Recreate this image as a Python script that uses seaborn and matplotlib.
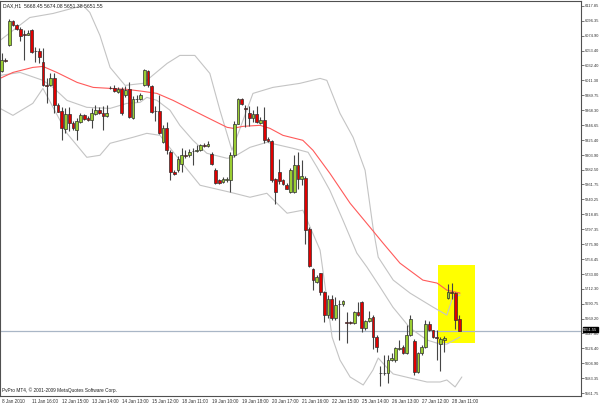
import matplotlib
matplotlib.use("Agg")
import matplotlib.pyplot as plt
import seaborn as sns
import numpy as np
import pandas as pd
from matplotlib.patches import Rectangle

sns.set_theme(style="white")
plt.rcParams['font.family'] = ['Liberation Sans Narrow', 'Liberation Sans', 'DejaVu Sans']

# ---------------- data ----------------
opens = [6023.9, 6039.6, 6061.1, 6095.9, 6089.8, 6085.0, 6076.9, 6076.4, 6082.6, 6052.9,
         6052.9, 6037.2, 6003.8, 6003.8, 6014.8, 5976.1, 5966.5, 5941.7, 5963.2, 5949.8,
         5939.3, 5951.2, 5960.8, 5957.5, 5954.6, 5963.2, 5969.0, 5964.1, 5959.4, 5999.9,
         5999.9, 5994.2, 5999.1, 5989.5, 5999.1, 5957.5, 5984.7, 5983.7, 6003.8, 6024.3,
         6002.8, 5967.0, 5967.0, 5922.5, 5942.6, 5908.2, 5879.6, 5882.0, 5891.6, 5903.5,
         5903.5, 5909.6, 5909.2, 5911.7, 5917.8, 5916.8, 5905.9, 5882.0, 5867.7, 5865.2,
         5867.7, 5868.7, 5903.5, 5948.9, 5983.7, 5970.8, 5964.7, 5956.9, 5963.2, 5950.3,
         5954.6, 5927.4, 5923.5, 5869.1, 5879.6, 5867.7, 5861.5, 5850.9, 5850.9, 5890.2,
         5870.1, 5871.0, 5798.4, 5739.7, 5721.9, 5734.0, 5706.7, 5674.2, 5697.1, 5669.5,
         5690.0, 5689.5, 5663.7, 5663.7, 5662.3, 5678.1, 5693.3, 5655.1, 5666.0, 5671.8,
         5642.2, 5591.5, 5590.7, 5590.7, 5609.7, 5609.7, 5625.0, 5628.8, 5620.2, 5645.5,
         5637.0, 5593.0, 5619.3, 5628.8, 5661.3, 5652.7, 5642.2, 5632.6, 5638.4, 5699.0,
         5707.6, 5706.2, 5668.45]
closes = [6039.6, 6038.9, 6096.9, 6089.8, 6085.0, 6074.0, 6076.0, 6079.3, 6051.5, 6052.5,
          6043.9, 6003.8, 6003.1, 6014.8, 5976.1, 5965.5, 5942.6, 5963.2, 5949.8, 5943.2,
          5952.2, 5960.8, 5956.1, 5953.6, 5964.1, 5969.0, 5964.1, 5959.4, 5964.1, 5999.5,
          5995.2, 5999.1, 5964.1, 5997.6, 5958.4, 5984.7, 5984.3, 5990.5, 6025.3, 6003.8,
          5965.5, 5966.5, 5935.4, 5942.6, 5910.7, 5879.6, 5877.3, 5898.8, 5903.5, 5903.1,
          5908.2, 5909.2, 5911.7, 5917.8, 5917.4, 5919.2, 5890.6, 5863.8, 5863.8, 5869.1,
          5870.1, 5903.5, 5948.9, 5983.7, 5977.6, 5970.1, 5956.9, 5963.2, 5951.2, 5954.6,
          5926.0, 5923.5, 5867.7, 5850.9, 5866.7, 5861.9, 5855.8, 5882.0, 5890.2, 5869.1,
          5873.4, 5797.0, 5744.4, 5724.4, 5729.1, 5706.7, 5674.2, 5697.1, 5669.5, 5688.5,
          5689.5, 5694.3, 5663.3, 5662.3, 5678.1, 5674.2, 5655.1, 5666.0, 5670.3, 5642.2,
          5628.8, 5591.1, 5591.1, 5609.7, 5613.0, 5626.5, 5627.3, 5620.2, 5645.5, 5668.0,
          5593.0, 5619.3, 5628.8, 5661.3, 5652.7, 5643.1, 5641.8, 5639.4, 5641.7, 5707.6,
          5706.2, 5667.0, 5651.55]
highs = [6049.7, 6042.5, 6098.4, 6097.9, 6091.2, 6086.9, 6083.6, 6083.6, 6084.0, 6058.7,
         6056.8, 6057.2, 6013.8, 6021.0, 6021.0, 5978.0, 5972.7, 5970.8, 5972.3, 5952.2,
         5956.5, 5963.7, 5962.2, 5959.4, 5970.8, 5975.1, 5972.3, 5973.7, 5975.1, 6002.4,
         6003.8, 6000.9, 6000.9, 6002.4, 6008.1, 5988.0, 5989.5, 5992.3, 6026.7, 6025.3,
         6003.8, 5973.7, 5989.5, 5946.5, 5950.8, 5910.7, 5882.0, 5902.1, 5913.5, 5910.7,
         5912.1, 5913.5, 5917.8, 5919.2, 5920.7, 5923.5, 5907.8, 5884.9, 5869.1, 5872.0,
         5872.0, 5907.8, 5952.2, 5985.2, 5985.2, 5975.1, 5973.7, 5968.0, 5973.7, 5957.9,
         5972.7, 5929.3, 5925.0, 5870.5, 5898.2, 5869.1, 5863.4, 5884.9, 5903.5, 5908.2,
         5896.3, 5873.4, 5800.3, 5741.6, 5731.5, 5734.4, 5708.6, 5702.9, 5702.9, 5700.4,
         5695.7, 5695.7, 5678.9, 5665.6, 5679.9, 5692.8, 5694.3, 5667.0, 5679.9, 5674.2,
         5645.5, 5601.1, 5616.9, 5616.9, 5619.7, 5628.3, 5638.4, 5631.2, 5659.9, 5674.2,
         5639.8, 5621.2, 5631.2, 5667.0, 5666.0, 5652.7, 5652.7, 5643.1, 5644.1, 5718.2,
         5719.6, 5707.2, 5674.08]
lows = [6022.4, 6036.8, 6059.7, 6088.3, 6082.6, 6066.9, 6039.6, 6075.4, 6049.7, 6037.2,
        6035.3, 6002.4, 5978.0, 6002.4, 5963.7, 5965.1, 5926.0, 5935.0, 5937.9, 5939.3,
        5926.0, 5949.3, 5953.6, 5952.2, 5943.2, 5960.8, 5962.2, 5940.3, 5958.0, 5998.1,
        5993.8, 5992.3, 5960.8, 5986.6, 5956.5, 5955.1, 5979.4, 5982.3, 6002.4, 6000.9,
        5963.7, 5952.2, 5933.6, 5920.7, 5904.9, 5867.7, 5874.8, 5879.1, 5879.1, 5899.2,
        5900.6, 5889.2, 5907.8, 5909.2, 5914.9, 5914.9, 5889.2, 5861.9, 5861.9, 5863.4,
        5864.8, 5850.9, 5900.6, 5947.9, 5975.1, 5944.0, 5945.0, 5950.8, 5949.3, 5947.9,
        5921.1, 5922.1, 5865.2, 5833.3, 5862.9, 5860.5, 5854.8, 5849.0, 5849.0, 5855.8,
        5860.5, 5776.9, 5743.0, 5710.0, 5720.1, 5702.9, 5664.6, 5669.9, 5667.0, 5667.0,
        5638.4, 5687.1, 5634.5, 5661.3, 5661.3, 5672.8, 5650.3, 5652.7, 5664.2, 5625.1,
        5621.6, 5572.5, 5588.2, 5577.2, 5608.3, 5606.9, 5624.1, 5618.3, 5618.3, 5644.1,
        5588.2, 5591.1, 5616.9, 5626.9, 5651.3, 5641.2, 5609.7, 5594.4, 5621.6, 5697.1,
        5697.1, 5654.1, 5651.38]

# Bollinger bands (bar position, price)
upper_x = [-0.45, 7.5, 13.7, 21.7, 23.5, 26.2, 28.9, 32.9, 37.7, 44.1, 47.5, 51.5, 55.5,
           58.2, 61.4, 67.0, 72.3, 79.5, 84.9, 86.7, 90.2, 93.7, 96.9, 99.0, 100.4,
           104.4, 108.9, 115.0, 118.7, 120.3, 122.2]
upper_y = [6068.3, 6101.2, 6107.0, 6118.4, 6108.4, 6075.4, 6029.6, 6003.8, 6006.7, 6035.3,
           6046.8, 6046.8, 6021.0, 5968.0, 5910.7, 5992.3, 6000.9, 6006.7, 6013.8, 6011.0,
           5963.7, 5929.3, 5882.0, 5800.3, 5757.3, 5724.4, 5705.7, 5685.7, 5674.2, 5700.0,
           5702.9]
mid_x = [-0.45, 4.9, 11.0, 13.7, 17.4, 22.7, 28.9, 33.4, 36.9, 38.7, 41.4, 44.9, 47.5,
         51.0, 54.7, 60.1, 61.7, 66.2, 70.7, 77.7, 81.7, 84.1, 87.5, 91.0, 94.7, 97.4,
         100.9, 104.3, 108.9, 113.4, 116.9, 118.7, 122.2]
mid_y = [6018.1, 6022.4, 6011.0, 6000.9, 5982.3, 5972.3, 5970.8, 5978.0, 5979.4, 5986.6,
         5982.3, 5968.0, 5946.5, 5925.0, 5906.4, 5899.2, 5900.6, 5914.9, 5922.1, 5913.5,
         5907.8, 5886.3, 5853.3, 5810.3, 5763.1, 5743.0, 5714.3, 5685.7, 5655.6, 5638.4,
         5632.6, 5632.6, 5642.7]
lower_x = [-0.45, 3.0, 8.3, 11.0, 17.4, 22.7, 26.2, 28.9, 35.0, 38.7, 42.2, 47.5, 52.9,
           60.9, 66.2, 70.7, 76.1, 80.3, 84.9, 88.1, 90.2, 92.9, 96.4, 99.0, 100.4, 102.8,
           104.4, 108.9, 113.4, 116.9, 118.7, 120.9, 122.7]
lower_y = [5970.8, 5960.8, 5978.0, 5999.5, 5935.0, 5900.6, 5903.5, 5920.7, 5929.3, 5935.0,
           5932.1, 5896.3, 5860.5, 5850.5, 5843.3, 5849.0, 5820.4, 5824.7, 5767.4, 5642.7,
           5609.7, 5585.4, 5573.9, 5595.4, 5612.6, 5598.3, 5589.7, 5583.9, 5578.2, 5578.2,
           5581.1, 5571.1, 5585.4]
# red moving average
ma_x = [-0.45, 3.0, 8.3, 11.0, 14.7, 20.1, 24.4, 28.9, 33.4, 37.7, 41.4, 45.7, 49.4, 54.7,
        60.1, 61.7, 64.3, 68.9, 71.5, 75.0, 80.3, 83.0, 87.5, 92.9, 98.2, 101.7, 106.2,
        112.3, 116.1, 118.7, 122.2]
ma_y = [6013.8, 6022.4, 6029.6, 6031.0, 6022.4, 6008.1, 6000.9, 5999.5, 5998.1, 5995.2,
        5992.3, 5982.3, 5972.3, 5958.0, 5943.6, 5942.2, 5945.0, 5946.5, 5942.2, 5932.1,
        5925.0, 5910.7, 5877.7, 5834.7, 5800.3, 5777.4, 5748.7, 5724.4, 5720.1, 5710.0,
        5705.7]

date_labels = ["8 Jan 2010", "11 Jan 16:00", "12 Jan 15:00", "13 Jan 14:00", "14 Jan 13:00",
               "15 Jan 12:00", "18 Jan 11:00", "19 Jan 10:00", "19 Jan 18:00", "20 Jan 17:00",
               "21 Jan 16:00", "22 Jan 15:00", "25 Jan 14:00", "26 Jan 13:00", "27 Jan 12:00",
               "28 Jan 11:00"]
label_bars = [0, 8, 16, 24, 32, 40, 48, 56, 64, 72, 80, 88, 96, 104, 112, 120]

price_ticks = [6117.85, 6096.35, 6074.90, 6053.40, 6032.40, 6011.30, 5989.75, 5968.30,
               5946.65, 5925.40, 5903.90, 5882.50, 5861.75, 5840.25, 5818.85, 5797.35,
               5775.90, 5754.45, 5733.00, 5712.30, 5690.75, 5669.20, 5647.80, 5626.40,
               5604.90, 5583.35, 5561.75]
last_price = 5651.55
title_text = "DAX,H1  5668.45 5674.08 5651.38 5651.55"
copyright_text = "PvPro MT4, \u00a9 2001-2009 MetaQuotes Software Corp."
box_bars = (116.3, 126.2)
box_prices = (5633.6, 5745.9)

# ---------------- figure ----------------
W, H = 600, 404
fig = plt.figure(figsize=(W / 100, H / 100), dpi=100)
fig.patch.set_facecolor("white")
ax = fig.add_axes([0.0, 1 - 396 / H, 581 / W, 395.5 / H])
ax.set_facecolor("white")

n = len(opens)
df = pd.DataFrame({"i": np.arange(n), "o": opens, "h": highs, "l": lows, "c": closes})
df["up"] = df["c"] >= df["o"]

# yellow highlight box
ax.add_patch(Rectangle((box_bars[0], box_prices[0]), box_bars[1] - box_bars[0],
                       box_prices[1] - box_prices[0], facecolor="#FFFF00",
                       edgecolor="none", zorder=0))

# current price line
ax.axhline(last_price, color="#A9B6C6", lw=0.9, zorder=1)

# indicator lines
band_col = "#C4C4C4"
sns.lineplot(x=upper_x, y=upper_y, ax=ax, color=band_col, lw=0.8, zorder=2, sort=False)
sns.lineplot(x=mid_x, y=mid_y, ax=ax, color=band_col, lw=0.8, zorder=2, sort=False)
sns.lineplot(x=lower_x, y=lower_y, ax=ax, color=band_col, lw=0.8, zorder=2, sort=False)
sns.lineplot(x=ma_x, y=ma_y, ax=ax, color="#FF5A5A", lw=0.8, zorder=2, sort=False)

# candles
ax.vlines(df["i"], df["l"], df["h"], color="#454545", lw=0.8, zorder=3)
bw = 0.74
for up, col in [(True, "#9ACD32"), (False, "#E00000")]:
    d = df[df["up"] == up]
    bottom = np.minimum(d["o"], d["c"])
    height = np.maximum(np.abs(d["c"] - d["o"]), 0.4)
    ax.bar(d["i"], height, bottom=bottom, width=bw, color=col, edgecolor="#303030",
           linewidth=0.5, zorder=4)

# axes limits (pixel-matched)
ax.set_xlim(-0.45, 154.47)
ax.set_ylim(5558.1, 6125.6)

# right price axis
ax.yaxis.tick_right()
ax.set_yticks(price_ticks)
ax.set_yticklabels([f"{v:.2f}" for v in price_ticks], fontsize=2.9, color="#303030")
ax.tick_params(axis="y", length=2.0, width=0.5, pad=0.6, color="#404040")

# bottom date axis
ax.set_xticks(label_bars)
ax.set_xticklabels(date_labels, fontsize=3.3, color="#303030", ha="left")
ax.tick_params(axis="x", length=2.0, width=0.5, pad=0.5, color="#404040")

for s in ax.spines.values():
    s.set_color("#505050")
    s.set_linewidth(0.8)

# current price tag
ax.text(1.0035, last_price + 1.5, f"{last_price:.2f}", transform=ax.get_yaxis_transform(),
        fontsize=2.9, color="white", va="center", ha="left",
        bbox=dict(boxstyle="square,pad=0.1", fc="black", ec="black"), zorder=10,
        clip_on=False)

ax.text(0.006, 0.992, title_text, transform=ax.transAxes, fontsize=3.7, color="#202020",
        va="top", ha="left")
ax.text(0.004, 0.008, copyright_text, transform=ax.transAxes, fontsize=3.4, color="#202020",
        va="bottom", ha="left")

fig.savefig("out.png", dpi=100, facecolor="white")
